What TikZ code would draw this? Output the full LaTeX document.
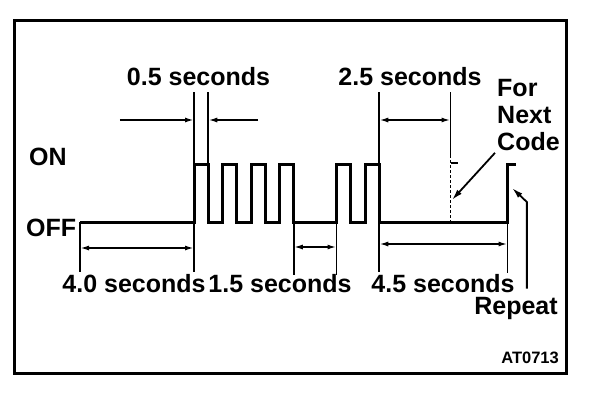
\documentclass[tikz,border=0pt]{standalone}
\usepackage{fontspec}
\setmainfont{Liberation Sans}
\usetikzlibrary{arrows.meta, positioning}

\begin{document}
\begin{tikzpicture}[
  x=1pt, y=-1pt,
  wave/.style={line width=3pt, line join=miter},
  extline/.style={line width=1.7pt},
  dimarrow/.style={line width=1.7pt, {Latex[length=9pt,width=5pt]}-{Latex[length=9pt,width=5pt]}},
  onearrow/.style={line width=1.7pt, -{Latex[length=9pt,width=5pt]}},
  pointer/.style={line width=1.8pt, -{Latex[length=11pt,width=6pt]}},
  txt/.style={font=\bfseries\fontsize{25}{27}\selectfont, inner sep=0pt},
  smalltxt/.style={font=\bfseries\fontsize{16.5}{18}\selectfont, inner sep=0pt}
]
\useasboundingbox (0,0) rectangle (608,400);

% frame
\draw[line width=3pt] (14,20) rectangle (566,373);

% levels
\node[txt, anchor=base west] (on) at (29,165) {ON};
\node[txt, anchor=base west] (off) at (26,236) {OFF};

\begin{scope}[xshift=80pt, x=28.5pt]
  % signal
  \draw[wave] (0,222) -| (4,164) -| (4.5,222) -| (5,164) -| (5.5,222)
    -| (6,164) -| (6.5,222) -| (7,164) -| (7.5,222) -| (9,164) -| (9.5,222)
    -| (10,164) -| (10.5,222) -| (15,164) -- (15.3,164);

  % extension lines
  \foreach \t/\ya/\yb in {0/222/272, 4/92/272, 4.5/92/164, 7.5/222/275,
                          9/222/275, 10.5/92/272, 15/222/273}
    \draw[extline] (\t,\ya) -- (\t,\yb);
  \draw[extline] (13,92) -- (13,155);
  \draw[extline, dash pattern=on 3pt off 2pt] (13,155) -- (13,222);
  \draw[extline] (13,163) -- (13.25,163);

  % dimensions
  \draw[onearrow] (1.4,120) -- (4,120);
  \draw[onearrow] (6.25,120) -- (4.5,120);
  \draw[dimarrow] (10.5,120) -- (13,120);
  \draw[dimarrow] (0,248) -- (4,248);
  \draw[dimarrow] (7.5,247) -- (9,247);
  \draw[dimarrow] (10.5,244) -- (15,244);

  \coordinate (nexttip) at (13.05,200);
  \coordinate (repbend) at (15.68,202);
  \coordinate (reptip) at (15.16,188);
\end{scope}

% times
\node[txt, anchor=base] (t05) at (198.5,85) {0.5 seconds};
\node[txt, anchor=base] (t25) at (410,85) {2.5 seconds};
\node[txt, anchor=base] (t40) at (134,292) {4.0 seconds};
\node[txt, anchor=base] (t15) at (280,292) {1.5 seconds};
\node[txt, anchor=base] (t45) at (443,292) {4.5 seconds};

% notes
\node[txt, anchor=north west, align=left] (next) at (497,79) {For\\Next\\Code};
\node[txt, anchor=base] (repeat) at (516,314) {Repeat};
\node[smalltxt, anchor=base east] (code) at (559,363) {AT0713};

\draw[pointer] ([xshift=-2pt,yshift=-2pt]next.south west) -- (nexttip);
\draw[pointer] (repbend |- repeat.north) ++(0,-8) -- (repbend) -- (reptip);
\end{tikzpicture}
\end{document}
